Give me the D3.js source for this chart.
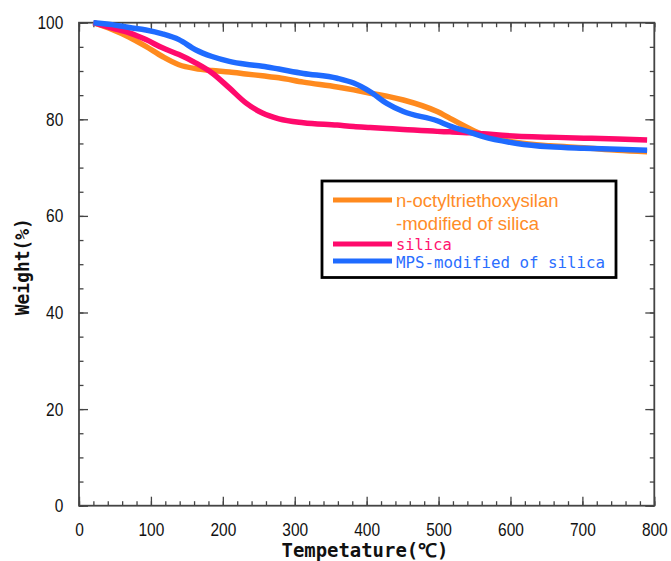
<!DOCTYPE html>
<html>
<head>
<meta charset="utf-8">
<script src="https://cdn.jsdelivr.net/npm/d3@7"></script>
<style>
  html, body { margin: 0; padding: 0; background: #fff; }
  svg { display: block; }
</style>
</head>
<body>
<svg id="chart" width="671" height="561"></svg>
<script>
// ---- data ----
const temperature = [20, 46, 70, 93, 116, 139, 162, 185, 209, 232, 255, 278, 312, 359, 382, 405, 428, 451, 498, 516, 544, 562, 609, 655, 702, 749, 790];
const octylSilica = [100, 98.6, 97.0, 95.1, 93.0, 91.3, 90.5, 90.1, 89.8, 89.4, 89.0, 88.6, 87.7, 86.7, 86.1, 85.4, 84.8, 84.0, 81.6, 80.2, 78.0, 76.8, 75.2, 74.5, 74.1, 73.6, 73.3];
const silica      = [100, 98.9, 97.9, 96.5, 94.8, 93.4, 91.7, 89.6, 86.5, 83.4, 81.3, 80.1, 79.3, 78.8, 78.5, 78.3, 78.1, 77.9, 77.5, 77.4, 77.2, 77.0, 76.5, 76.3, 76.1, 75.9, 75.7];
const mpsSilica   = [100, 99.6, 99.0, 98.5, 97.7, 96.5, 94.4, 93.0, 92.0, 91.4, 91.0, 90.4, 89.5, 88.5, 87.5, 85.7, 83.3, 81.6, 79.7, 78.6, 77.3, 76.4, 75.0, 74.3, 74.0, 73.8, 73.6];
const seriesNames = ["n-octyltriethoxysilan\n-modified of silica", "silica", "MPS-modified of silica"];
const xTicks = [0, 100, 200, 300, 400, 500, 600, 700, 800];
const yTicks = [0, 20, 40, 60, 80, 100];
const xLabel = "Tempetature(℃)";
const yLabel = "Weight(%)";

// ---- layout ----
const svg = d3.select("#chart");
const x = d3.scaleLinear().domain([0, 800]).range([79, 654.3]);
const y = d3.scaleLinear().domain([0, 100]).range([505.7, 22.7]);
const axisColor = "#444";
const colors = ["#FF8A1E", "#FF0A6C", "#1F6BFF"];
const textColors = ["#FF8C28", "#FF1470", "#2A6EFF"];

function styleAxis(g) {
  g.select(".domain").remove();
  g.selectAll(".tick line").attr("stroke", axisColor).attr("stroke-width", 1.3);
}

const numFont = "'Liberation Sans Narrow', 'Arial Narrow', 'Liberation Sans', Arial, sans-serif";

// minor ticks
const xMinor = d3.range(0, 801, 20);
const yMinor = d3.range(0, 101, 5);
svg.append("g").attr("transform", `translate(0,${y(0)})`)
  .call(d3.axisBottom(x).tickValues(xMinor).tickSize(-4.5).tickSizeOuter(0).tickFormat(""))
  .call(styleAxis);
svg.append("g").attr("transform", `translate(0,${y(100)})`)
  .call(d3.axisTop(x).tickValues(xMinor).tickSize(-4.5).tickSizeOuter(0).tickFormat(""))
  .call(styleAxis);
svg.append("g").attr("transform", `translate(${x(0)},0)`)
  .call(d3.axisLeft(y).tickValues(yMinor).tickSize(-4.5).tickSizeOuter(0).tickFormat(""))
  .call(styleAxis);
svg.append("g").attr("transform", `translate(${x(800)},0)`)
  .call(d3.axisRight(y).tickValues(yMinor).tickSize(-4.5).tickSizeOuter(0).tickFormat(""))
  .call(styleAxis);

// major ticks with labels
const gx = svg.append("g").attr("transform", `translate(0,${y(0)})`)
  .call(d3.axisBottom(x).tickValues(xTicks).tickSize(-9).tickSizeOuter(0).tickPadding(16.6).tickFormat(d3.format("d")))
  .call(styleAxis);
const gy = svg.append("g").attr("transform", `translate(${x(0)},0)`)
  .call(d3.axisLeft(y).tickValues(yTicks).tickSize(-9).tickSizeOuter(0).tickPadding(15.7).tickFormat(d3.format("d")))
  .call(styleAxis);
svg.append("g").attr("transform", `translate(0,${y(100)})`)
  .call(d3.axisTop(x).tickValues(xTicks).tickSize(-9).tickSizeOuter(0).tickFormat(""))
  .call(styleAxis);
svg.append("g").attr("transform", `translate(${x(800)},0)`)
  .call(d3.axisRight(y).tickValues(yTicks).tickSize(-9).tickSizeOuter(0).tickFormat(""))
  .call(styleAxis);

[gx, gy].forEach(g => {
  g.selectAll(".tick text")
    .attr("fill", "#111")
    .style("font-family", numFont)
    .style("font-size", "19px")
    .attr("textLength", function() { return this.textContent.length * 8.6; })
    .attr("lengthAdjust", "spacingAndGlyphs");
});

// frame
svg.append("rect")
  .attr("x", x(0)).attr("y", y(100))
  .attr("width", x(800) - x(0)).attr("height", y(0) - y(100))
  .attr("fill", "none").attr("stroke", axisColor).attr("stroke-width", 1.8);

// ---- lines ----
const allSeries = [octylSilica, silica, mpsSilica];
const line = d3.line()
  .x((d, i) => x(temperature[i]))
  .y(d => y(d))
  .curve(d3.curveMonotoneX);
allSeries.forEach((vals, k) => {
  svg.append("path")
    .datum(vals)
    .attr("d", line)
    .attr("fill", "none")
    .attr("stroke", colors[k])
    .attr("stroke-width", 5.5)
    .attr("stroke-linejoin", "round");
});

// ---- axis titles ----
const monoBold = "'DejaVu Sans Mono', 'Liberation Mono', monospace";
svg.append("text")
  .attr("x", 365).attr("y", 557)
  .attr("text-anchor", "middle")
  .style("font-family", monoBold).style("font-weight", "bold").style("font-size", "19px")
  .attr("textLength", 167).attr("lengthAdjust", "spacingAndGlyphs")
  .attr("fill", "#111")
  .text(xLabel);
svg.append("text")
  .attr("transform", "translate(28.5,266.7) rotate(-90)")
  .attr("text-anchor", "middle")
  .style("font-family", monoBold).style("font-weight", "bold").style("font-size", "19px")
  .attr("textLength", 97).attr("lengthAdjust", "spacingAndGlyphs")
  .attr("fill", "#111")
  .text(yLabel);

// ---- legend ----
const lg = svg.append("g");
lg.append("rect")
  .attr("x", 322).attr("y", 181)
  .attr("width", 294).attr("height", 96.5)
  .attr("fill", "#fff").attr("stroke", "#000").attr("stroke-width", 2.8);

const legendLineY = [200, 244, 261];
seriesNames.forEach((name, k) => {
  lg.append("line")
    .attr("x1", 333).attr("x2", 392)
    .attr("y1", legendLineY[k]).attr("y2", legendLineY[k])
    .attr("stroke", colors[k]).attr("stroke-width", 5);
});
// orange label (two lines)
const orangeLines = seriesNames[0].split("\n");
orangeLines.forEach((t, i) => {
  lg.append("text")
    .attr("x", 396).attr("y", 207.3 + i * 22.7)
    .style("font-family", "'Liberation Sans', Arial, sans-serif").style("font-size", "18.5px")
    .attr("fill", textColors[0])
    .text(t);
});
lg.append("text")
  .attr("x", 396).attr("y", 250)
  .style("font-family", "'DejaVu Sans Mono', monospace").style("font-size", "15.5px")
  .attr("textLength", 55.7).attr("lengthAdjust", "spacingAndGlyphs")
  .attr("fill", textColors[1])
  .text(seriesNames[1]);
lg.append("text")
  .attr("x", 396).attr("y", 267.7)
  .style("font-family", "'DejaVu Sans Mono', monospace").style("font-size", "15.8px")
  .attr("textLength", 209).attr("lengthAdjust", "spacingAndGlyphs")
  .attr("fill", textColors[2])
  .text(seriesNames[2]);
</script>
</body>
</html>
